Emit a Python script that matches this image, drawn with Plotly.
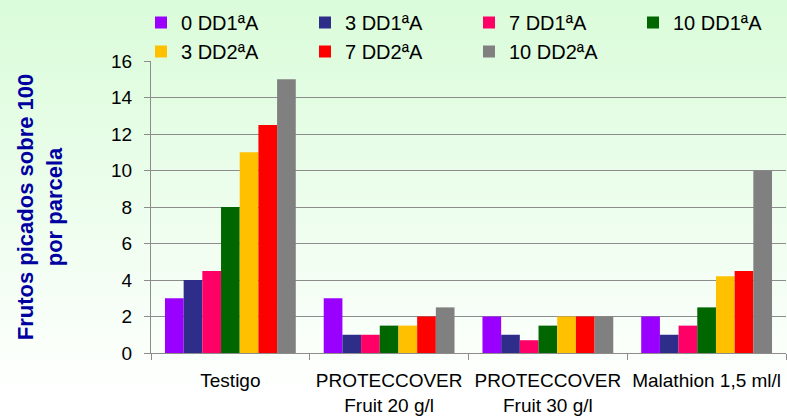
import plotly.graph_objects as go

categories = ["Testigo", "PROTECCOVER<br>Fruit 20 g/l", "PROTECCOVER<br>Fruit 30 g/l", "Malathion 1,5 ml/l"]
series_names = ["0 DD1ªA", "3 DD1ªA", "7 DD1ªA", "10 DD1ªA", "3 DD2ªA", "7 DD2ªA", "10 DD2ªA"]
s0_dd1 = [3, 3, 2, 2]
s3_dd1 = [4, 1, 1, 1]
s7_dd1 = [4.5, 1, 0.7, 1.5]
s10_dd1 = [8, 1.5, 1.5, 2.5]
s3_dd2 = [11, 1.5, 2, 4.2]
s7_dd2 = [12.5, 2, 2, 4.5]
s10_dd2 = [15, 2.5, 2, 10]
series_values = [s0_dd1, s3_dd1, s7_dd1, s10_dd1, s3_dd2, s7_dd2, s10_dd2]
colors = ["#9900ff", "#2e2e8a", "#ff0066", "#006600", "#ffc000", "#ff0000", "#808080"]

FONT = "Liberation Sans, Arial, sans-serif"

fig = go.Figure()
for name, vals, c in zip(series_names, series_values, colors):
    fig.add_trace(go.Bar(x=categories, y=vals, name=name, marker=dict(color=c, line=dict(width=0))))

# background gradient (light green at top to white near the bottom)
W, H = 787, 416
ML, MR, MT, MB = 151, 1, 61, 63
plot_h = H - MT - MB
plot_w = W - ML - MR

def py_to_paper(py):
    return (H - MB - py) / plot_h

def px_to_paper(px):
    return (px - ML) / plot_w

shapes = []
n = 50
top_c = (218, 252, 218)
grad_end = 400
for i in range(n):
    f = i / (n - 1)
    r = int(round(top_c[0] + (255 - top_c[0]) * f))
    g = int(round(top_c[1] + (255 - top_c[1]) * f))
    b = int(round(top_c[2] + (255 - top_c[2]) * f))
    ya = grad_end * i / n
    yb = grad_end * (i + 1) / n + 1
    shapes.append(dict(type="rect", xref="paper", yref="paper",
                       x0=px_to_paper(-2), x1=px_to_paper(W + 2),
                       y0=py_to_paper(yb), y1=py_to_paper(ya - (2 if i == 0 else 0)),
                       fillcolor=f"rgb({r},{g},{b})", line=dict(width=0), layer="below"))

fig.update_layout(
    width=W, height=H,
    margin=dict(l=ML, r=MR, t=MT, b=MB, autoexpand=False),
    paper_bgcolor="white", plot_bgcolor="rgba(0,0,0,0)",
    shapes=shapes,
    barmode="group", bargap=0.176, bargroupgap=0,
    font=dict(family=FONT, size=20, color="black"),
    showlegend=True,
    legend=dict(orientation="h", xref="paper", yref="paper",
                x=px_to_paper(141), y=py_to_paper(3), xanchor="left", yanchor="top",
                entrywidth=119, entrywidthmode="pixels", traceorder="normal",
                font=dict(size=20, family=FONT), bgcolor="rgba(0,0,0,0)", itemwidth=30,
                tracegroupgap=0),
    yaxis=dict(range=[0, 16], dtick=2, showgrid=True, gridcolor="#8c8c8c", gridwidth=1,
               showline=True, linecolor="#8c8c8c", ticks="outside", ticklen=6, tickcolor="#8c8c8c",
               zeroline=False, tickfont=dict(size=19, family=FONT), ticklabelstandoff=8,
               title=dict(text="Frutos picados sobre 100<br>por parcela",
                          font=dict(size=22, color="#0000a0", family=FONT, weight="bold"),
                          standoff=42)),
    xaxis=dict(showline=True, linecolor="#8c8c8c", ticks="outside", tickson="boundaries",
               ticklen=6, tickcolor="#8c8c8c", tickfont=dict(size=19, family=FONT),
               ticklabelstandoff=10, tickangle=0),
)

fig.write_html("out.html", config={"displayModeBar": False},
               post_script="document.body.style.margin='0';")
